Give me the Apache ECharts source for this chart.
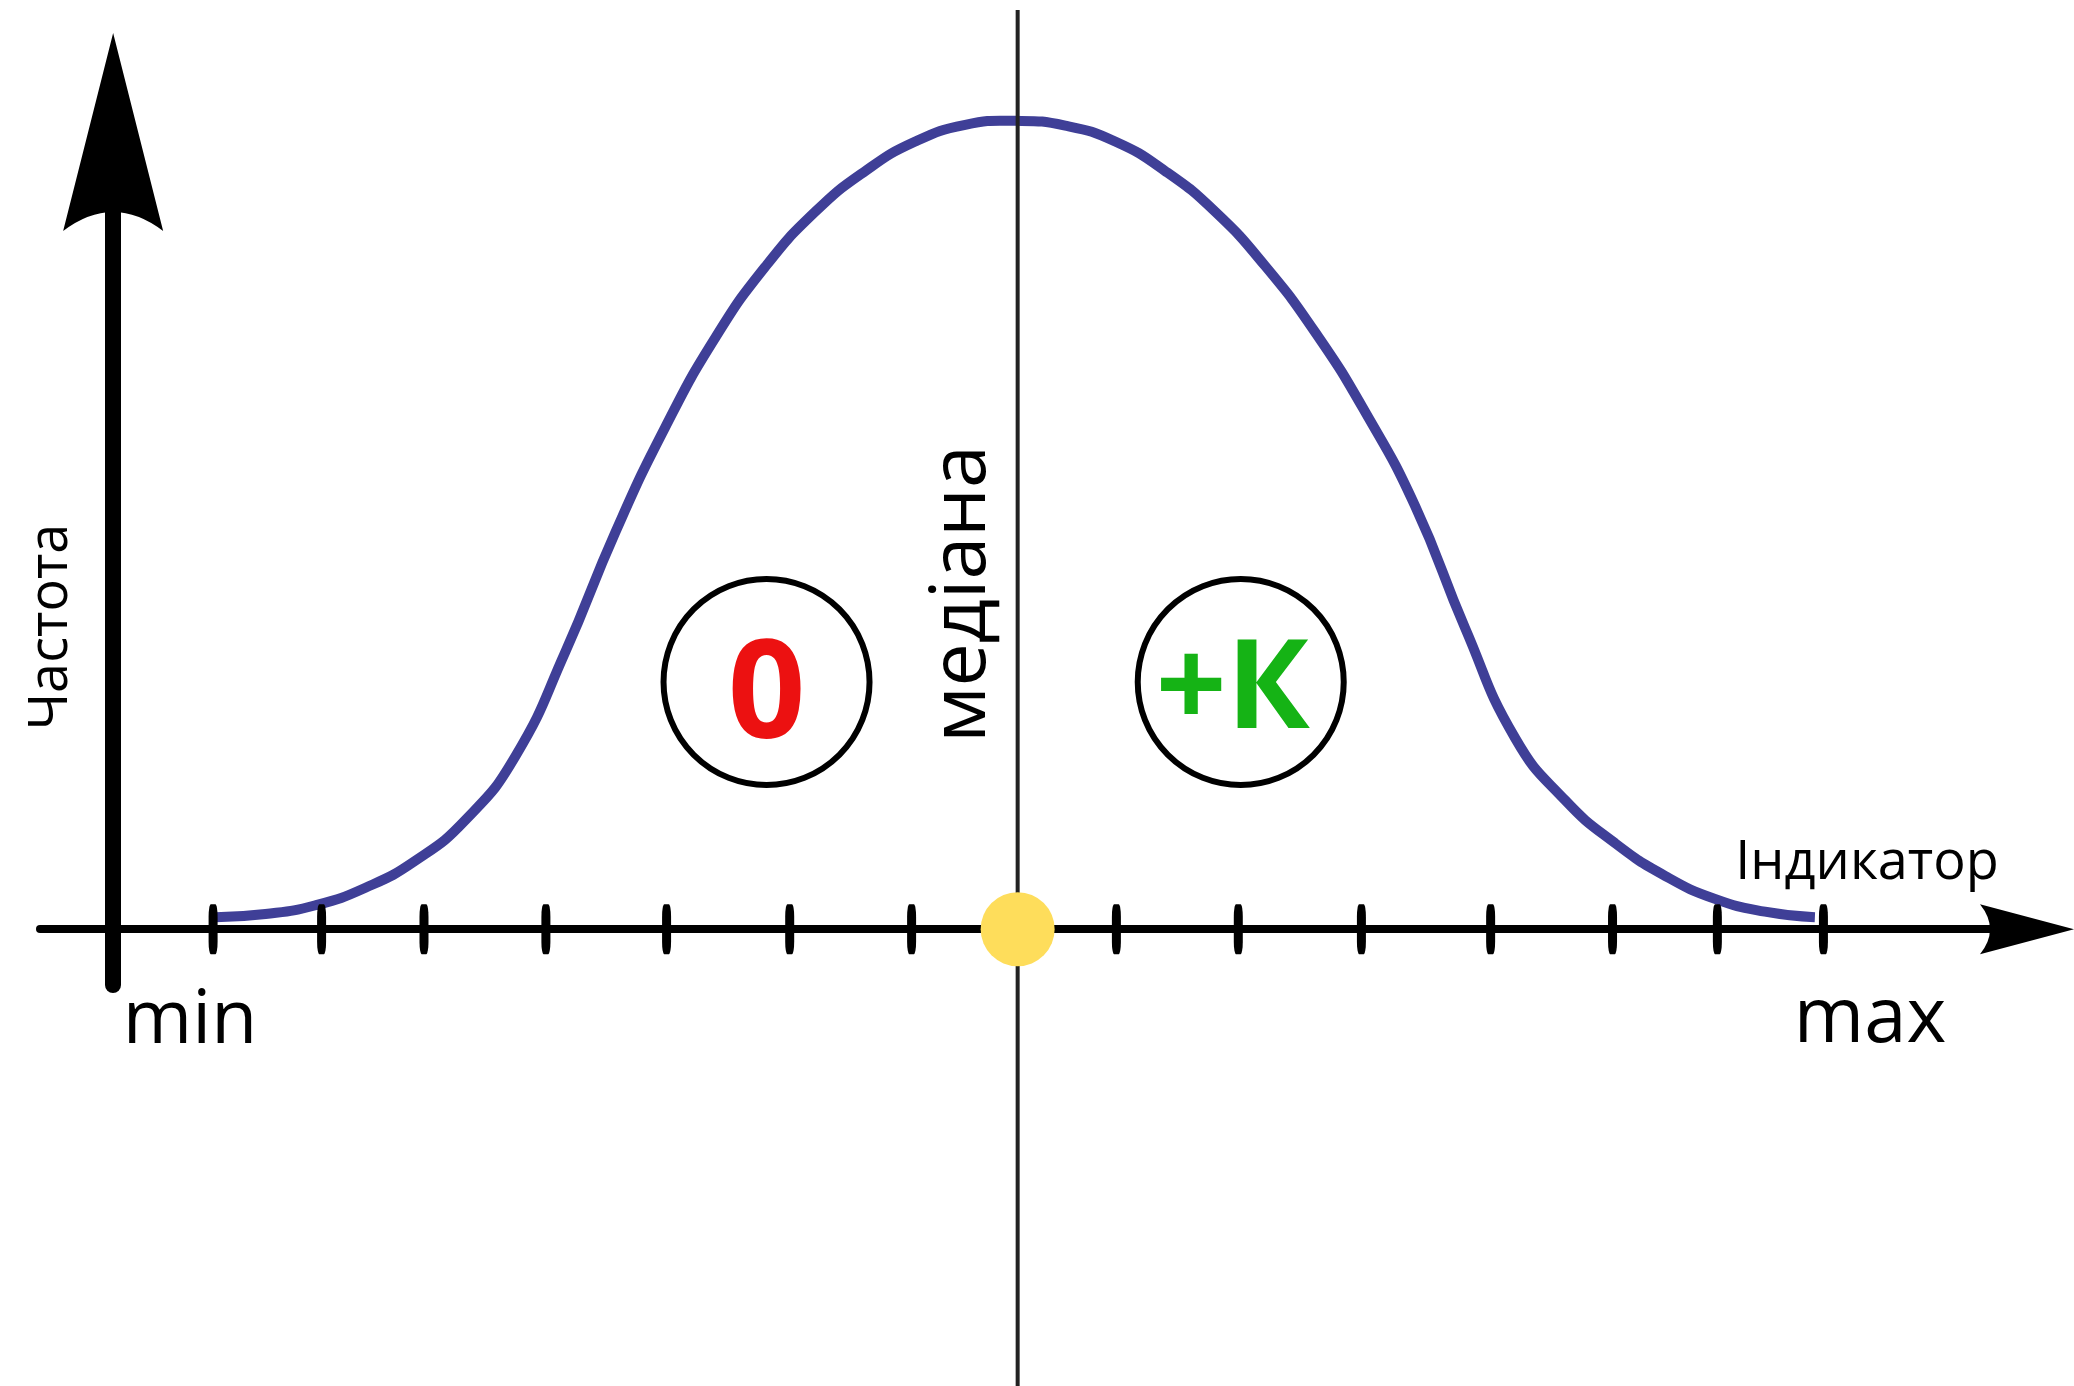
<!DOCTYPE html>
<html>
<head>
<meta charset="utf-8">
<title>Частота / Індикатор</title>
<script src="https://cdn.jsdelivr.net/npm/echarts@6.0.0/dist/echarts.min.js"></script>
<style>
  html, body { margin: 0; padding: 0; background: #fff; }
  #chart { width: 2074px; height: 1386px; }
</style>
</head>
<body>
<div id="chart"></div>
<script>
// distribution curve: x = indicator, y = frequency
const curveX = [0.84, 1.25, 1.66, 2.07, 2.48, 2.89, 3.30, 3.71, 4.12, 4.53, 4.94, 5.35, 5.76, 6.17, 6.58, 6.99, 7.40,
  7.81, 8.22, 8.63, 9.04, 9.45, 9.86, 10.27, 10.68, 11.09, 11.50, 11.91, 12.32, 12.73, 13.14, 13.55, 13.96]
const curveY = [1.5, 1.9, 3.0, 5.2, 8.6, 13.7, 21.7, 34.8, 49.8, 63.0, 74.2, 83.1, 90.0, 95.1, 98.8, 100.9, 101.4,
  100.8, 98.8, 95.1, 90.0, 83.2, 74.9, 64.9, 53.1, 37.8, 24.0, 16.2, 10.8, 6.7, 3.8, 2.2, 1.5]

// tick marks along the indicator axis
const tickValues = [0.82, 1.71, 2.55, 3.55, 4.54, 5.55, 6.55, 8.23, 9.23, 10.24, 11.30, 12.30, 13.16, 14.03]

const medianValue = 7.42
const medianSpan = [-57.3, 115.3]

// the two zones either side of the median
const zoneLabels = ['0', '+К']
const zoneX = [5.36, 9.25]
const zoneY = [31, 31]

const FONT = '"Open Sans", "DejaVu Sans", sans-serif'
const yArrow = 'path://M50,0 L100,198 Q50,160 0,198 Z'
const xArrow = 'path://M25,0 L50,94 Q25,74 0,94 Z'

function textEl(text, x, y, size, rotation) {
  return {
    type: 'text',
    x,
    y,
    rotation: rotation || 0,
    z: 10,
    style: {
      text,
      font: `${size}px ${FONT}`,
      fill: '#000',
      align: 'center',
      verticalAlign: 'middle',
      textAlign: 'center',
      textVerticalAlign: 'middle',
    },
  }
}

const zoneStyle = {
  '0': { color: '#ec1111', fontSize: 136, offset: [0, 17] },
  '+К': { color: '#15b315', fontSize: 124, offset: [-8, 11] },
}

// one smooth polyline through all curve points, placed by the axes
function renderCurve(params, api) {
  return {
    type: 'polyline',
    shape: {
      points: curveX.map((x, i) => api.coord([x, curveY[i]])),
      smooth: 0.5,
    },
    style: { stroke: '#3f3f97', lineWidth: 10, fill: 'none', lineJoin: 'round', lineCap: 'butt' },
  }
}

const chart = echarts.init(document.getElementById('chart'))

const option = {
  backgroundColor: '#fff',
  animation: false,
  grid: { left: 40, right: 47, top: 132, bottom: 401 },
  xAxis: {
    type: 'value',
    min: -0.6,
    max: 15.7,
    axisLine: {
      show: true,
      onZero: true,
      symbol: ['none', xArrow],
      symbolSize: [50, 94],
      lineStyle: { color: '#000', width: 8 },
    },
    axisTick: { show: false },
    axisLabel: { show: false },
    splitLine: { show: false },
  },
  yAxis: {
    type: 'value',
    min: -7,
    max: 100,
    axisLine: {
      show: true,
      onZero: true,
      symbol: ['none', yArrow],
      symbolSize: [100, 198],
      lineStyle: { color: '#000', width: 16 },
    },
    axisTick: { show: false },
    axisLabel: { show: false },
    splitLine: { show: false },
  },
  series: [
    {
      name: 'curve',
      type: 'custom',
      data: [[curveX[0], curveY[0]]],
      renderItem: renderCurve,
      clip: false,
      silent: true,
      z: 2,
    },
    {
      name: 'median',
      type: 'line',
      data: medianSpan.map(v => [medianValue, v]),
      symbol: 'none',
      clip: false,
      z: 3,
      lineStyle: { color: '#222', width: 4 },
    },
    {
      name: 'ticks',
      type: 'scatter',
      data: tickValues.map(v => [v, 0]),
      symbol: 'roundRect',
      symbolSize: [9, 50],
      silent: true,
      z: 4,
      itemStyle: { color: '#000', opacity: 1 },
    },
    {
      name: 'medianPoint',
      type: 'scatter',
      data: [[medianValue, 0]],
      symbolSize: 74,
      silent: true,
      z: 5,
      itemStyle: { color: '#fedd5b', opacity: 1 },
    },
    {
      name: 'zones',
      type: 'scatter',
      data: zoneLabels.map((t, i) => ({
        name: t,
        value: [zoneX[i], zoneY[i]],
        label: {
          color: zoneStyle[t].color,
          fontSize: zoneStyle[t].fontSize,
          offset: zoneStyle[t].offset,
        },
      })),
      symbol: 'circle',
      symbolSize: 206,
      silent: true,
      z: 3,
      itemStyle: { color: '#fff', borderColor: '#000', borderWidth: 6, opacity: 1 },
      label: {
        show: true,
        position: 'inside',
        formatter: '{b}',
        fontWeight: 'bold',
        fontFamily: FONT,
      },
    },
  ],
  graphic: [
    textEl('min', 190, 1022, 75),
    textEl('max', 1870, 1020, 76),
    textEl('Індикатор', 1867, 864, 54),
    textEl('Частота', 52, 627, 54, Math.PI / 2),
    textEl('медіана', 963, 594, 77, Math.PI / 2),
  ],
}

chart.setOption(option)
</script>
</body>
</html>
